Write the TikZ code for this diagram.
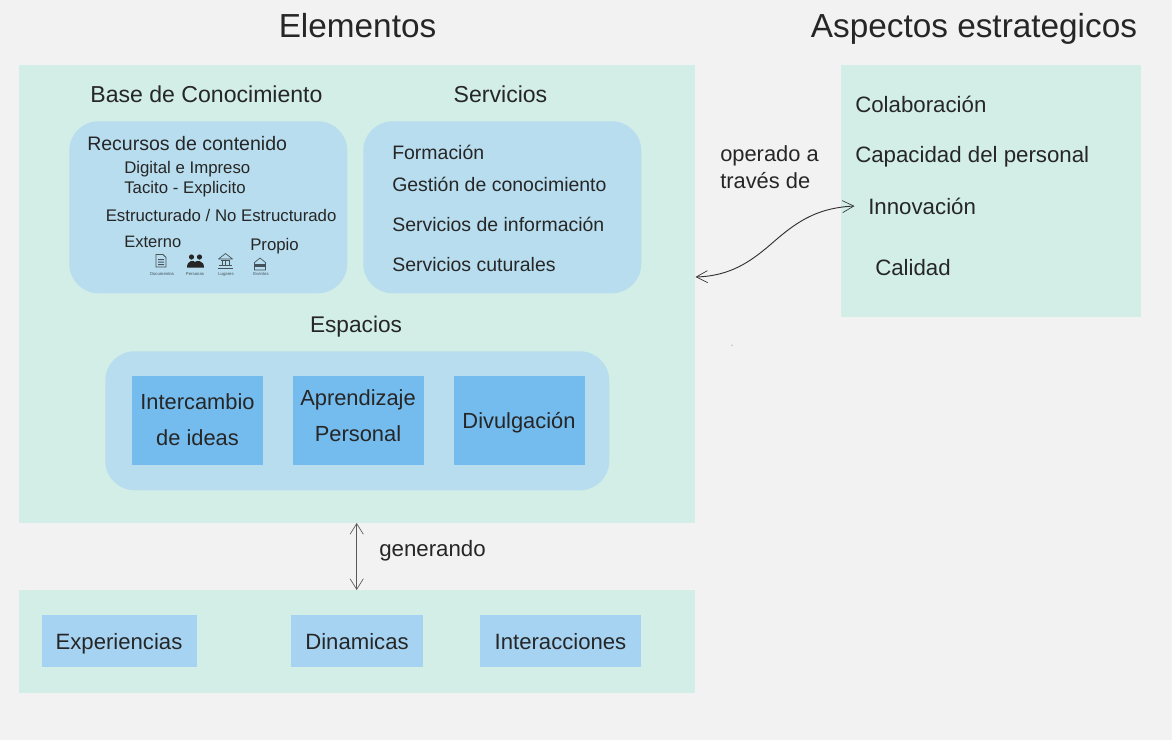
\documentclass[tikz,border=0pt]{standalone}
\usepackage{fontspec}
\setmainfont{Liberation Sans}
\usetikzlibrary{arrows.meta}
\definecolor{bgc}{HTML}{F2F2F2}
\definecolor{panelc}{HTML}{D2EEE7}
\definecolor{roundc}{HTML}{B8DDEE}
\definecolor{strongc}{HTML}{74BBEE}
\definecolor{softc}{HTML}{A6D3F2}
\definecolor{inkc}{HTML}{262626}
\definecolor{iconc}{HTML}{45525A}
\newcommand{\pxbox}[6]{\node[#1,anchor=north west,minimum width=#4*0.75pt,minimum height=#5*0.75pt] (#6) at (#2,#3) {};}
\newcommand{\fsz}[1]{\fontsize{#1}{#1}\selectfont}
\tikzset{
  x=0.75pt,y=-0.75pt,
  panel/.style={fill=panelc,draw=none,inner sep=0pt},
  roundbox/.style={fill=roundc,draw=none,rounded corners=22pt,inner sep=0pt},
  strongbox/.style={fill=strongc,draw=none,inner sep=0pt},
  softbox/.style={fill=softc,draw=none,inner sep=0pt},
  txt/.style={text=inkc,inner sep=0pt,anchor=base west},
  ctr/.style={text=inkc,inner sep=0pt,anchor=base},
  tiny/.style={text=iconc,inner sep=0pt,font=\fontsize{3.2}{4}\selectfont},
  link/.style={draw=black!80,line width=0.7pt,{Straight Barb[length=8.5pt,width=9pt,line width=0.5pt]}-{Straight Barb[length=8.5pt,width=9pt,line width=0.5pt]}},
  updown/.style={draw=black!65,line width=0.8pt,{Straight Barb[length=8pt,width=10pt,line width=0.5pt]}-{Straight Barb[length=8pt,width=10pt,line width=0.5pt]}},
}
\begin{document}
\begin{tikzpicture}
\fill[bgc] (0,0) rectangle (1172,740);
\useasboundingbox (0,0) rectangle (1172,740);
% panels
\pxbox{panel}{19}{65}{676}{458}{elem}
\pxbox{panel}{841}{65}{300}{252}{asp}
\pxbox{panel}{19}{590}{676}{103}{gen}
\pxbox{roundbox}{69}{121}{278}{172}{base}
\pxbox{roundbox}{363}{121}{278}{172}{serv}
\pxbox{roundbox}{105}{351}{504}{139}{esp}
% titles
\node[ctr,font=\fsz{25}] (t1) at (357.5,37) {Elementos};
\node[ctr,font=\fsz{25}] (t2) at (974,37) {Aspectos estrategicos};
\node[ctr,font=\fsz{17.3}] (t3) at (206.5,102) {Base de Conocimiento};
\node[ctr,font=\fsz{17.3}] (t4) at (500.5,102) {Servicios};
\node[ctr,font=\fsz{17}] (t5) at (356,332) {Espacios};
% base de conocimiento
\node[txt,font=\fsz{14.65}] (b1) at (87,150) {Recursos de contenido};
\node[txt,font=\fsz{12.6}] (b2) at (124,173) {Digital e Impreso};
\node[txt,font=\fsz{12.6}] (b3) at (124,193) {Tacito - Explicito};
\node[txt,font=\fsz{12.6}] (b4) at (105.5,221.7) {Estructurado / No Estructurado};
\node[txt,font=\fsz{12.4}] (b5) at (124,247.7) {Externo};
\node[txt,font=\fsz{12.6}] (b6) at (250,250.7) {Propio};
% icons: document
\draw[iconc,line width=0.7pt,fill=roundc] (156,254.5) -- (163,254.5) -- (166,257.5) -- (166,267) -- (156,267) -- cycle;
\fill[iconc] (158,259) rectangle (164,260) (158,261.5) rectangle (164,262.5) (158,264) rectangle (164,265);
% icons: people
\fill[black!85] (191.5,257) circle (2.6) (199.5,257) circle (2.6);
\fill[black!85] (187,267.5) .. controls (187,260) and (194,260) .. (195,262) .. controls (196,260) and (204,260) .. (204,267.5) -- cycle;
% icons: bank
\draw[iconc,line width=0.5pt,line join=round] (218.5,259) -- (225.5,253.5) -- (232.5,259) -- cycle;
\draw[iconc,line width=0.5pt] (221,260) -- (230,260) (222,260) -- (222,265) (225.5,260) -- (225.5,265) (229,260) -- (229,265) (219,265.5) -- (232,265.5) (218,268) -- (233,268);
% icons: eventos
\draw[iconc,line width=0.5pt,fill=roundc] (254.5,262.5) -- (260,258) -- (265.5,262.5) -- (265.5,270) -- (254.5,270) -- cycle;
\fill[iconc] (254.5,263.5) rectangle (265.5,266.5);
\node[tiny] (i1) at (162,274) {Documentos};
\node[tiny] (i2) at (195,274) {Personas};
\node[tiny] (i3) at (226,274) {Lugares};
\node[tiny] (i4) at (261,274) {Eventos};
% servicios
\node[txt,font=\fsz{14.6}] (s1) at (392,159) {Formación};
\node[txt,font=\fsz{14.6}] (s2) at (392,191.7) {Gestión de conocimiento};
\node[txt,font=\fsz{14.6}] (s3) at (392,231.7) {Servicios de información};
\node[txt,font=\fsz{14.6}] (s4) at (392,271) {Servicios cuturales};
% espacios
\pxbox{strongbox}{132}{376}{131}{89}{e1}
\pxbox{strongbox}{293}{376}{131}{89}{e2}
\pxbox{strongbox}{454}{376}{131}{89}{e3}
\node[ctr,font=\fsz{16.4}] (e1a) at (197.5,409) {Intercambio};
\node[ctr,font=\fsz{16.4}] (e1b) at (197.5,445) {de ideas};
\node[ctr,font=\fsz{16.4}] (e2a) at (358,405.7) {Aprendizaje};
\node[ctr,font=\fsz{16.4}] (e2b) at (358,441) {Personal};
\node[ctr,font=\fsz{16.4}] (e3a) at (519,428) {Divulgación};
% bottom
\pxbox{softbox}{42}{615}{155}{52}{g1}
\pxbox{softbox}{291}{615}{132}{52}{g2}
\pxbox{softbox}{480}{615}{161}{52}{g3}
\node[ctr,font=\fsz{16.6}] (g1t) at (119,649) {Experiencias};
\node[ctr,font=\fsz{16.6}] (g2t) at (357,649) {Dinamicas};
\node[ctr,font=\fsz{16.6}] (g3t) at (560.5,649) {Interacciones};
% aspectos
\node[txt,font=\fsz{16.7}] (a1) at (855,112) {Colaboración};
\node[txt,font=\fsz{16.7}] (a2) at (855,162.7) {Capacidad del personal};
\node[txt,font=\fsz{16.7}] (a3) at (868,214) {Innovación};
\node[txt,font=\fsz{16.7}] (a4) at (875,275) {Calidad};
% labels
\node[txt,font=\fsz{16.4}] (l1) at (720,161.7) {operado a};
\node[txt,font=\fsz{16.4}] (l2) at (720,188) {través de};
\node[txt,font=\fsz{16.7}] (l3) at (379,556.7) {generando};
% connectors
\coordinate (cl) at (695.5,277);
\coordinate (cr) at (854.5,206);
\coordinate (ct) at (356.7,523);
\coordinate (cb) at (356.7,590);
\draw[link] (cl) .. controls (730,276) and (750,262) .. (770,245) .. controls (795,223) and (815,208) .. (cr);
\draw[updown] (ct) -- (cb);
\fill[black!70] (732,345) circle (0.5);
\end{tikzpicture}
\end{document}
